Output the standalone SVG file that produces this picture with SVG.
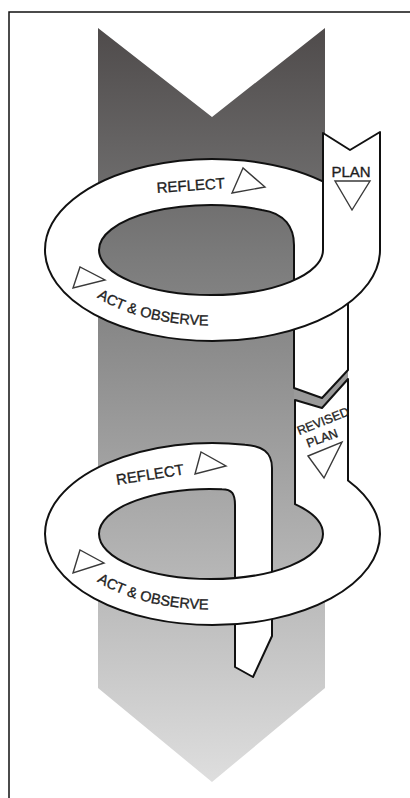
<svg xmlns="http://www.w3.org/2000/svg" width="410" height="798" viewBox="0 0 410 798">
  <defs>
    <linearGradient id="bgGrad" gradientUnits="userSpaceOnUse" x1="0" y1="28" x2="0" y2="782">
      <stop offset="0" stop-color="#4f4b4b"/>
      <stop offset="0.3" stop-color="#7a7a7a"/>
      <stop offset="0.66" stop-color="#adadad"/>
      <stop offset="1" stop-color="#dedede"/>
    </linearGradient>
    <path id="actPath1" d="M 97,297.3 A 146 76 0 0 0 290,313"/>
    <path id="actPath2" d="M 97,581.3 A 146 76 0 0 0 290,597"/>
  </defs>
  <style>
    .rib { fill: #ffffff; stroke: none; }
    .edge { fill: none; stroke: #111111; stroke-width: 2; stroke-linejoin: round; }
    .tri { fill: #ffffff; stroke: #3a3a3a; stroke-width: 1.4; stroke-linejoin: miter; }
    .lbl { font-family: "Liberation Sans", Arial, sans-serif; fill: #1e1e1e; stroke: #1e1e1e; stroke-width: 0.35; }
  </style>

  <rect x="0" y="0" width="410" height="798" fill="#ffffff"/>
  <path d="M 9,820 L 9,12 L 420,12" fill="none" stroke="#111" stroke-width="1.5"/>

  <!-- big background arrow -->
  <polygon id="bigArrow" points="98,28 212,117 325,28 325,688 212,782 98,688" fill="url(#bgGrad)"/>

  <!-- gap between the two strips -->
  <polygon points="294,386 322,396 348,368 348,381 322,410 294,402" fill="#9a9a9a"/>

  <!-- strip below first loop -->
  <g id="strip1">
    <path class="rib" d="M 294,300 L 294,388 L 322,398 L 348,370 L 348,300 Z"/>
    <path class="edge" d="M 294,300 L 294,388 L 322,398 L 348,370 L 348,300"/>
  </g>

  <!-- first loop -->
  <g id="loop1">
    <path class="rib" d="M 45,250 A 167.5 91 0 0 1 330,185.1 L 330,300 L 294,300 L 294,245 C 294,228 285,213 262,209.9 A 112 45 0 0 0 99,250 Z"/>
    <path class="edge" d="M 45,250 A 167.5 91 0 0 1 330,185.1"/>
    <path class="edge" d="M 99,250 A 112 45 0 0 1 262,209.9 C 285,213 294,228 294,245 L 294,300"/>
    <path class="rib" d="M 323,133 L 350,150 L 380,132 L 380,250 A 167.5 91 0 0 1 212.5,341 A 167.5 91 0 0 1 45,250 L 99,250 A 112 45 0 0 0 211,295 A 112 45 0 0 0 323,250 Z"/>
    <path class="edge" d="M 99,250 A 112 45 0 0 0 211,295 A 112 45 0 0 0 323,250 L 323,133 L 350,150 L 380,132 L 380,250 A 167.5 91 0 0 1 212.5,341 A 167.5 91 0 0 1 45,250"/>
  </g>

  <!-- second loop -->
  <g id="loop2">
    <path class="rib" d="M 45,534 A 167.5 91 0 0 1 245,444.7 C 262,446 272,452 272,468 L 272,636 L 253,677 L 235,667 L 235,505 C 235,494 232,489.2 222,489.2 A 112 45 0 0 0 99,534 Z"/>
    <path class="edge" d="M 45,534 A 167.5 91 0 0 1 245,444.7 C 262,446 272,452 272,468 L 272,636 L 253,677 L 235,667 L 235,505 C 235,494 232,489.2 222,489.2 A 112 45 0 0 0 99,534"/>
    <path class="rib" d="M 295,400 L 322,408 L 348,379 L 348,480.5 A 167.5 91 0 0 1 380,534 A 167.5 91 0 0 1 212.5,625 A 167.5 91 0 0 1 45,534 L 99,534 A 112 45 0 0 0 211,579 A 112 45 0 0 0 323,534 A 112 45 0 0 0 295,504.2 Z"/>
    <path class="edge" d="M 99,534 A 112 45 0 0 0 211,579 A 112 45 0 0 0 323,534 A 112 45 0 0 0 295,504.2 L 295,400 L 322,408 L 348,379 L 348,480.5 A 167.5 91 0 0 1 380,534 A 167.5 91 0 0 1 212.5,625 A 167.5 91 0 0 1 45,534"/>
  </g>

  <!-- labels and direction triangles -->
  <g id="reflect1">
    <text class="lbl" font-size="15" transform="translate(157,193) rotate(-4)">REFLECT</text>
    <polygon class="tri" points="243,168 232,193 265,187"/>
  </g>
  <g id="plan1">
    <text class="lbl" font-size="15" x="351" y="177" text-anchor="middle">PLAN</text>
    <polygon class="tri" points="335,181 370,181 352,210"/>
  </g>
  <g id="act1">
    <polygon class="tri" points="80,267 73,288 105,280"/>
    <text class="lbl" font-size="14.5"><textPath href="#actPath1">ACT &amp; OBSERVE</textPath></text>
  </g>
  <g id="revised">
    <text class="lbl" font-size="12.5" text-anchor="middle" transform="translate(323,421) rotate(-22)" y="4.4">REVISED</text>
    <text class="lbl" font-size="12.5" text-anchor="middle" transform="translate(322,438) rotate(-20)" y="4.4">PLAN</text>
    <polygon class="tri" points="308,456 342,442 324,478"/>
  </g>
  <g id="reflect2">
    <text class="lbl" font-size="15" transform="translate(117,485) rotate(-9)">REFLECT</text>
    <polygon class="tri" points="201,452 195,474 226,466"/>
  </g>
  <g id="act2">
    <polygon class="tri" points="80,550 73,573 104,563"/>
    <text class="lbl" font-size="14.5"><textPath href="#actPath2">ACT &amp; OBSERVE</textPath></text>
  </g>
</svg>
